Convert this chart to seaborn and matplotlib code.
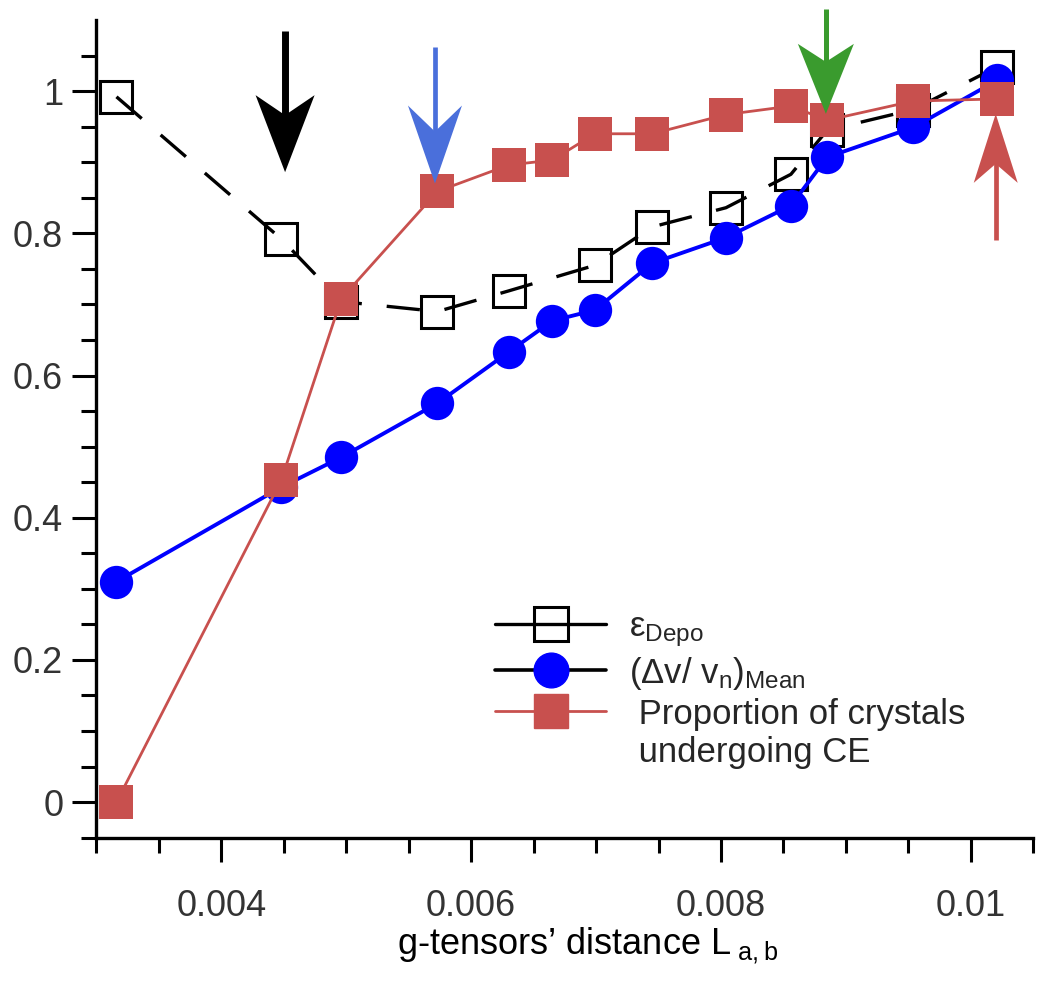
#!/bin/python

# Libraries
import numpy as np
import seaborn as sns
import matplotlib
matplotlib.use('Agg')
from matplotlib import pyplot as plt
from matplotlib import transforms as mtransforms
from matplotlib.patches import Polygon
from matplotlib.lines import Line2D
from matplotlib.ticker import MultipleLocator, FixedLocator

# Data
x_all = [0.00316, 0.00448, 0.00496, 0.00573, 0.00630, 0.00665, 0.00699,
         0.00745, 0.00804, 0.00856, 0.00885, 0.00954, 0.01021]
eps_x = [0.00316, 0.00448, 0.00496, 0.00573, 0.00630, 0.00699,
         0.00745, 0.00804, 0.00856, 0.00885, 0.00954, 0.01021]
eps_depo = [0.992, 0.792, 0.704, 0.690, 0.719, 0.755, 0.809, 0.836, 0.883, 0.945, 0.974, 1.034]
dv_mean = [0.310, 0.443, 0.485, 0.561, 0.633, 0.677, 0.692, 0.758, 0.794, 0.839, 0.907, 0.949, 1.015]
prop_ce = [0.0, 0.453, 0.708, 0.859, 0.896, 0.903, 0.940, 0.940, 0.967, 0.979, 0.959, 0.986, 0.989]

xticks = [0.004, 0.006, 0.008, 0.010]
xticklabels = ['0.004', '0.006', '0.008', '0.01']
yticks = [0, 0.2, 0.4, 0.6, 0.8, 1.0]
yticklabels = ['0', '0.2', '0.4', '0.6', '0.8', '1']

# arrows: x, tail y, tip y, colour
arrows = [
    (0.00451, 1.085, 0.886, '#000000'),
    (0.00571, 1.062, 0.870, '#4a6fdb'),
    (0.00884, 1.116, 0.968, '#3a9b2e'),
    (0.01020, 0.791, 0.968, '#c8504e'),
]

RED = '#c8504e'

sns.set_style('ticks')
plt.rcParams['font.family'] = ['Liberation Sans', 'DejaVu Sans']
plt.rcParams['mathtext.fontset'] = 'custom'
plt.rcParams['mathtext.rm'] = 'Liberation Sans'
plt.rcParams['mathtext.it'] = 'Liberation Sans:italic'

fig = plt.figure(figsize=(10.5, 9.81), dpi=100)
ax = fig.add_axes([0.0919, 0.1461, 0.8921, 0.8335])

sns.lineplot(x=eps_x, y=eps_depo, ax=ax, color='black', lw=2.4,
             linestyle=(0, (10, 7.5)), marker='s', markersize=23,
             markerfacecolor='none', markeredgecolor='black',
             markeredgewidth=2.2, errorbar=None, sort=False, zorder=2)
sns.lineplot(x=x_all, y=dv_mean, ax=ax, color='#0000ff', lw=2.8,
             marker='o', markersize=24, markerfacecolor='#0000ff',
             markeredgecolor='#0000ff', markeredgewidth=0,
             errorbar=None, sort=False, zorder=3)
sns.lineplot(x=x_all, y=prop_ce, ax=ax, color=RED, lw=2.0,
             marker='s', markersize=24, markerfacecolor=RED,
             markeredgecolor=RED, markeredgewidth=0,
             errorbar=None, sort=False, zorder=4)

ax.set_xlim(0.003, 0.0105)
ax.set_ylim(-0.05, 1.1)
ax.set_xticks(xticks)
ax.set_xticklabels(xticklabels)
ax.set_yticks(yticks)
ax.set_yticklabels(yticklabels)
ax.xaxis.set_minor_locator(MultipleLocator(0.0005))
ax.yaxis.set_minor_locator(FixedLocator(np.arange(-0.05, 1.06, 0.05)))
sns.despine(ax=ax)
for s in ['left', 'bottom']:
    ax.spines[s].set_linewidth(2.4)
    ax.spines[s].set_color('black')
ax.tick_params(which='major', direction='out', length=17, width=2.2,
               labelsize=26, labelcolor='#333333', color='black')
ax.tick_params(which='minor', direction='out', length=11, width=2.2, color='black')
ax.tick_params(axis='x', which='major', pad=20)
ax.tick_params(axis='y', which='major', pad=7)

ax.set_xlabel('g-tensors\u2019 distance L$_{\\mathrm{\\ a,b}}$', fontsize=26, color='black')
ax.xaxis.set_label_coords(0.524, -0.107)


# arrows with notched heads (sizes in pixels)
def draw_arrow(x, y_tail, y_tip, color, shaft, hl, hw, notch):
    sgn = 1 if y_tail > y_tip else -1
    tr = fig.dpi_scale_trans + mtransforms.ScaledTranslation(x, y_tip, ax.transData)
    verts = np.array([[0, 0], [-hw, sgn * hl], [0, sgn * (hl - notch)], [hw, sgn * hl]]) / 100.0
    ax.add_patch(Polygon(verts, closed=True, transform=tr, facecolor=color,
                         edgecolor='none', clip_on=False, zorder=6))
    tip_px = ax.transData.transform((x, y_tip))
    y_end = ax.transData.inverted().transform(
        (tip_px[0], tip_px[1] + sgn * (hl - notch - 3)))[1]
    ax.plot([x, x], [y_tail, y_end], color=color, lw=shaft,
            solid_capstyle='butt', clip_on=False, zorder=6)


head_dims = [(5.0, 77, 29.5, 20), (3.4, 78, 27, 26), (3.6, 70, 28, 18), (3.4, 69, 22, 19)]
for (x, yt, yp, c), (sw, hl, hw, nt) in zip(arrows, head_dims):
    draw_arrow(x, yt, yp, c, sw, hl, hw, nt)

# legend
handles = [
    Line2D([], [], color='black', lw=2.4, marker='s', markersize=25,
           markerfacecolor='none', markeredgecolor='black', markeredgewidth=2.2),
    Line2D([], [], color='black', lw=2.6, marker='o', markersize=25,
           markerfacecolor='#0000ff', markeredgecolor='#0000ff'),
    Line2D([], [], color=RED, lw=2.0, marker='s', markersize=25,
           markerfacecolor=RED, markeredgecolor=RED),
    Line2D([], [], linestyle='none'),
]
labels = ['\u03b5$_{\\mathrm{Depo}}$',
          '(\u0394v/ v$_{\\mathrm{n}}$)$_{\\mathrm{Mean}}$',
          ' Proportion of crystals',
          ' undergoing CE']
ax.legend(handles, labels, loc='upper left', bbox_to_anchor=(495 / 1050, 1 - 610 / 981),
          bbox_transform=fig.transFigure, frameon=False, fontsize=25,
          handlelength=3.2, handletextpad=0.66, labelspacing=0.17,
          borderpad=0, borderaxespad=0, numpoints=1)

fig.savefig('out.png', dpi=100)
